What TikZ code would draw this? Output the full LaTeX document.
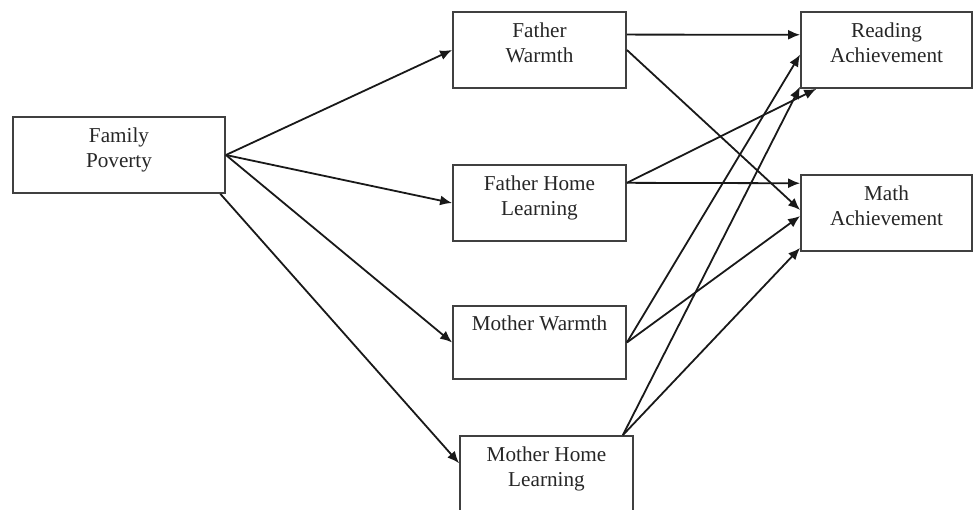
\documentclass[tikz,border=0pt]{standalone}
\usepackage{fontspec}
\setmainfont{Liberation Serif}
\usetikzlibrary{arrows.meta}
\begin{document}
\begin{tikzpicture}[x=0.5pt,y=-0.5pt,line width=0.9pt,
  box/.style={draw=black!75,rectangle,minimum width=86.5pt,minimum height=38pt,inner sep=0pt,align=center,text depth=7pt,text=black!85,font=\fontsize{10.6}{12.5}\selectfont},
  link/.style={-{Latex[length=6pt,width=5pt]},draw=black!90}]
        \useasboundingbox (0,0) rectangle (973,509);
        \coordinate (c1) at (119,155);
        \coordinate (c2) at (539.5,50);
        \coordinate (c3) at (539.5,203);
        \coordinate (c4) at (539.5,342.5);
        \coordinate (c5) at (546.5,474);
        \coordinate (c6) at (886.5,50);
        \coordinate (c7) at (886.5,213);
        \node[box,minimum width=106pt] (poverty) at (c1) {Family\\Poverty};
        \node[box] (fwarm) at (c2) {Father\\Warmth};
        \node[box] (fhome) at (c3) {Father Home\\Learning};
        \node[box,minimum height=36.5pt] (mwarm) at (c4) {Mother Warmth\\\strut};
        \node[box] (mhome) at (c5) {Mother Home\\Learning};
        \node[box,minimum width=85.5pt] (read) at (c6) {Reading\\Achievement};
        \node[box,minimum width=85.5pt] (math) at (c7) {Math\\Achievement};
        \draw[link] (poverty.east)--(fwarm.west);
        \draw[link] (poverty.east)--(fhome.west);
        \draw[link] (poverty.east)--(mwarm.west);
        \draw[link] (poverty.-21)--(mhome.173);
        \draw[link] (fwarm.10)--(read.170);
        \draw[link] (fwarm.east)--(math.178);
        \draw[link] (fhome.13)--(read.209);
        \draw[link] (fhome.13)--(math.161);
        \draw[link] (mwarm.east)--(read.183);
        \draw[link] (mwarm.east)--(math.182);
        \draw[link] (mhome.27)--(read.203);
        \draw[link] (mhome.27)--(math.202);
      \end{tikzpicture}
\end{document}
